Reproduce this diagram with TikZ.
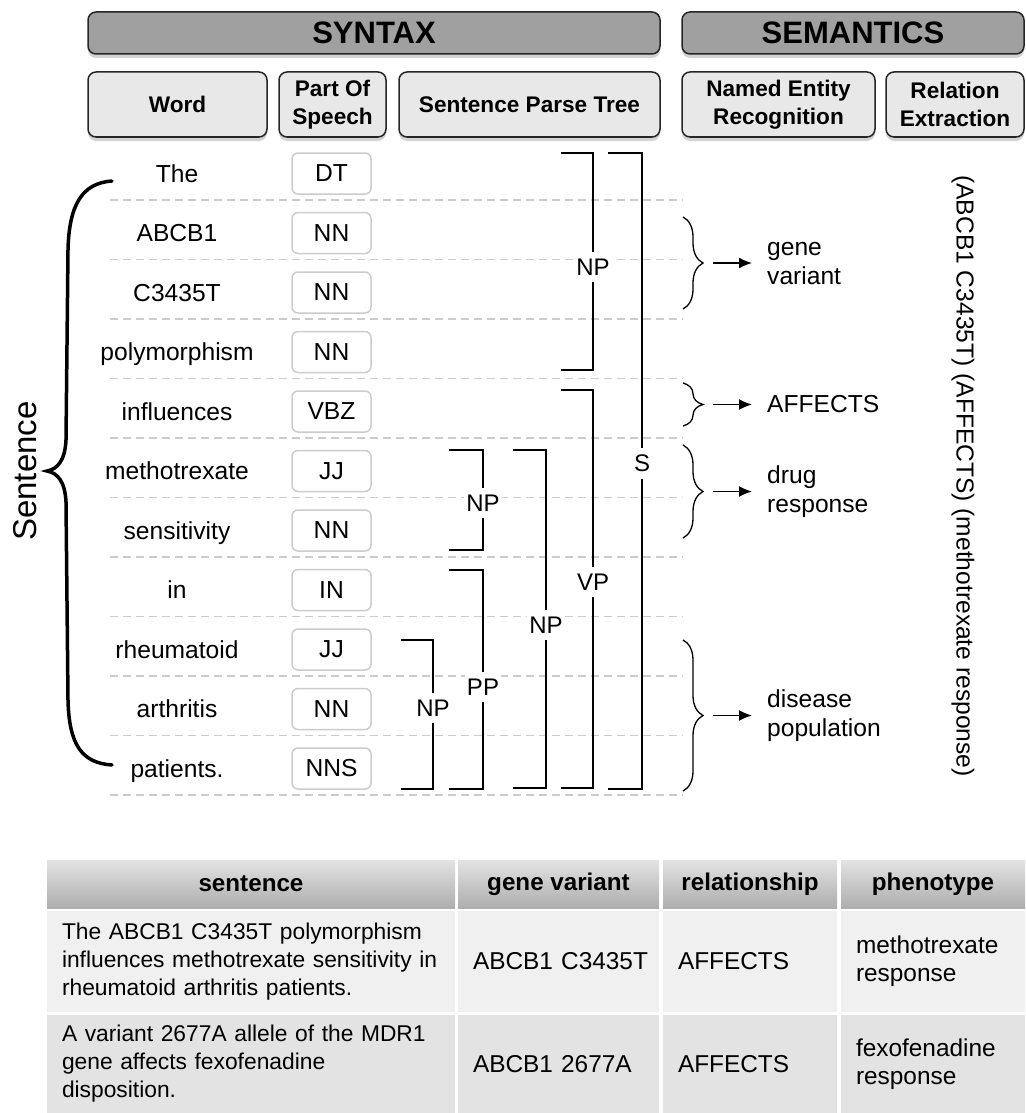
\documentclass[tikz,border=0pt]{standalone}
\usepackage{fontspec}
\setmainfont{Liberation Sans}
\usetikzlibrary{positioning}
\usetikzlibrary{arrows.meta,shadows,decorations.pathreplacing}
\definecolor{groupgray}{RGB}{160,160,160}
\definecolor{columngray}{RGB}{232,232,232}
\definecolor{rulegray}{RGB}{204,204,204}
\newcommand{\wordsize}{\fontsize{24.6}{29}\selectfont}
\newcommand{\labelsize}{\fontsize{24}{28}\selectfont}
\newcommand{\colsize}{\fontsize{22.6}{28}\selectfont\bfseries}
\newcommand{\groupsize}{\fontsize{31}{36}\selectfont\bfseries}
\newcommand{\sentsize}{\fontsize{22.8}{28}\selectfont}
\newcommand{\cellsize}{\fontsize{24.4}{28}\selectfont}
\newcommand{\theadsize}{\fontsize{24.2}{28}\selectfont\bfseries}
\newcommand{\bigsize}{\fontsize{33}{38}\selectfont}
% one constituent of the parse tree: name, left x, bar x, top y, bottom y, label y, label
\newcommand{\phrase}[7]{
  \draw[phrase line] (#2,#4) -- (#3,#4) -- (#3,#5) -- (#2,#5);
  \node[phrase label] (#1) at (#3,#6) {#7};
}
\tikzset{
  group/.style={draw=black!85, line width=1.5pt, rounded corners=8pt, fill=groupgray,
    minimum height=42pt, inner sep=0pt, outer sep=0pt, font=\groupsize,
    drop shadow={shadow xshift=0pt, shadow yshift=-4pt, opacity=0.35}},
  column/.style={group, fill=columngray, minimum height=65pt, align=center, font=\colsize},
  word/.style={font=\wordsize, inner sep=0pt},
  postag/.style={draw=rulegray, line width=1.5pt, rounded corners=6pt, fill=white,
    minimum width=79pt, minimum height=41pt, inner sep=0pt, font=\wordsize},
  row line/.style={rulegray, line width=1.5pt, dash pattern=on 8pt off 5pt},
  phrase line/.style={line width=2.5pt},
  phrase label/.style={fill=white, inner xsep=2pt, inner ysep=7pt, font=\labelsize},
  sem brace/.style={decorate, decoration={brace, amplitude=20pt}, line width=1.3pt},
  sem label/.style={anchor=west, align=left, inner xsep=15pt, inner ysep=0pt, font=\wordsize},
  sem arrow/.style={line width=1.5pt, -{Latex[length=13pt, width=11pt]}},
  sent brace/.style={line width=3.5pt, line cap=round},
  thead/.style={inner sep=0pt, outer sep=0pt, minimum height=48pt, top color=black!11,
    bottom color=black!32, font=\theadsize},
  tcell/.style={inner xsep=15pt, inner ysep=0pt, outer sep=0pt, align=left, font=\cellsize},
  row1/.style={fill=black!6, minimum height=101pt},
  row2/.style={fill=black!11, minimum height=98pt}
}
\begin{document}
\begin{tikzpicture}[x=1pt, y=-1pt]
  \useasboundingbox (0,0) rectangle (1025,1113);

  \node[group, minimum width=572pt, anchor=north west] (syntax) at (88,12) {SYNTAX};
  \node[group, minimum width=342pt, right=22pt of syntax] (semantics) {SEMANTICS};
  \node[column, minimum width=179pt, anchor=north west] (word) at (88,72) {Word};
  \node[column, minimum width=107pt, right=12pt of word] (pos) {Part Of\\Speech};
  \node[column, minimum width=261pt, right=13pt of pos] (parse) {Sentence Parse Tree};
  \node[column, minimum width=193pt, right=22pt of parse] (ner) {Named Entity\\Recognition};
  \node[column, minimum width=138pt, right=11pt of ner] (rel) {Relation\\Extraction};

  \foreach \k in {0,...,10}
    \draw[row line] (110,200+59.5*\k) -- (683,200+59.5*\k);

  \foreach \word/\ptag [count=\i from 0] in {The/DT, ABCB1/NN, C3435T/NN, polymorphism/NN,
      influences/VBZ, methotrexate/JJ, sensitivity/NN, in/IN, rheumatoid/JJ, arthritis/NN,
      patients./NNS} {
    \node[word, anchor=base] (w\i) at (177,182+59.5*\i) {\word};
    \node[postag] (t\i) at (331.5,173.5+59.5*\i) {\ptag};
  }

  \draw[sent brace] (112,181) .. controls (82,183) and (69,205) .. (68,250) -- (66,440)
    .. controls (65,460) and (58,469) .. (47,471) .. controls (58,473) and (65,482) .. (66,502)
    -- (68,700) .. controls (69,745) and (82,763) .. (112,765);
  \node[font=\bigsize, rotate=90, inner sep=0pt] (sentence) at (25,471) {Sentence};

  \phrase{np1}{561}{593}{153}{370}{267}{NP}
  \phrase{s}{608}{642}{153}{789}{463}{S}
  \phrase{vp}{561}{593}{390}{788}{582}{VP}
  \phrase{np2}{513}{546}{450}{788}{625}{NP}
  \phrase{np3}{449}{483}{450}{550}{503}{NP}
  \phrase{pp}{449}{483}{570}{789}{687}{PP}
  \phrase{np4}{401}{433}{640}{789}{708}{NP}

  \foreach \nm/\ya/\yb/\txt in {gene/217/309/{gene\\variant}, affects/383/426/AFFECTS,
      drug/445/538/{drug\\response}, disease/640/791/{disease\\population}} {
    \draw[sem brace] (683,\ya) -- (683,\yb);
    \coordinate (\nm-br) at (713,{(\ya+\yb)/2});
    \node[sem label] (\nm) at (752,{(\ya+\yb)/2}) {\txt};
    \draw[sem arrow] (\nm-br) -- (\nm-br -| \nm.west);
  }
  \node[word, rotate=-90] (relation) at (963,476)
    {(ABCB1 C3435T) (AFFECTS) (methotrexate response)};

  \begin{scope}[node distance=3pt and 4pt]
    \node[thead, minimum width=408pt, anchor=north west] (h1) at (47,860) {sentence};
    \node[thead, minimum width=201pt, right=3pt of h1] (h2) {gene variant};
    \node[thead, minimum width=174pt, right=of h2] (h3) {relationship};
    \node[thead, minimum width=184pt, right=of h3] (h4) {phenotype};

    \node[tcell, row1, font=\sentsize, text width=378pt, below=of h1] (s1)
      {The ABCB1 C3435T polymorphism\\influences methotrexate sensitivity in\\rheumatoid arthritis patients.};
    \node[tcell, row1, text width=171pt, below=of h2] (g1) {ABCB1~C3435T};
    \node[tcell, row1, text width=144pt, below=of h3] (r1) {AFFECTS};
    \node[tcell, row1, text width=154pt, below=of h4] (p1) {methotrexate\\response};

    \node[tcell, row2, font=\sentsize, text width=378pt, below=of s1] (s2)
      {A variant 2677A allele of the MDR1\\gene affects fexofenadine\\disposition.};
    \node[tcell, row2, text width=171pt, below=of g1] (g2) {ABCB1~2677A};
    \node[tcell, row2, text width=144pt, below=of r1] (r2) {AFFECTS};
    \node[tcell, row2, text width=154pt, below=of p1] (p2) {fexofenadine\\response};
  \end{scope}
\end{tikzpicture}
\end{document}
